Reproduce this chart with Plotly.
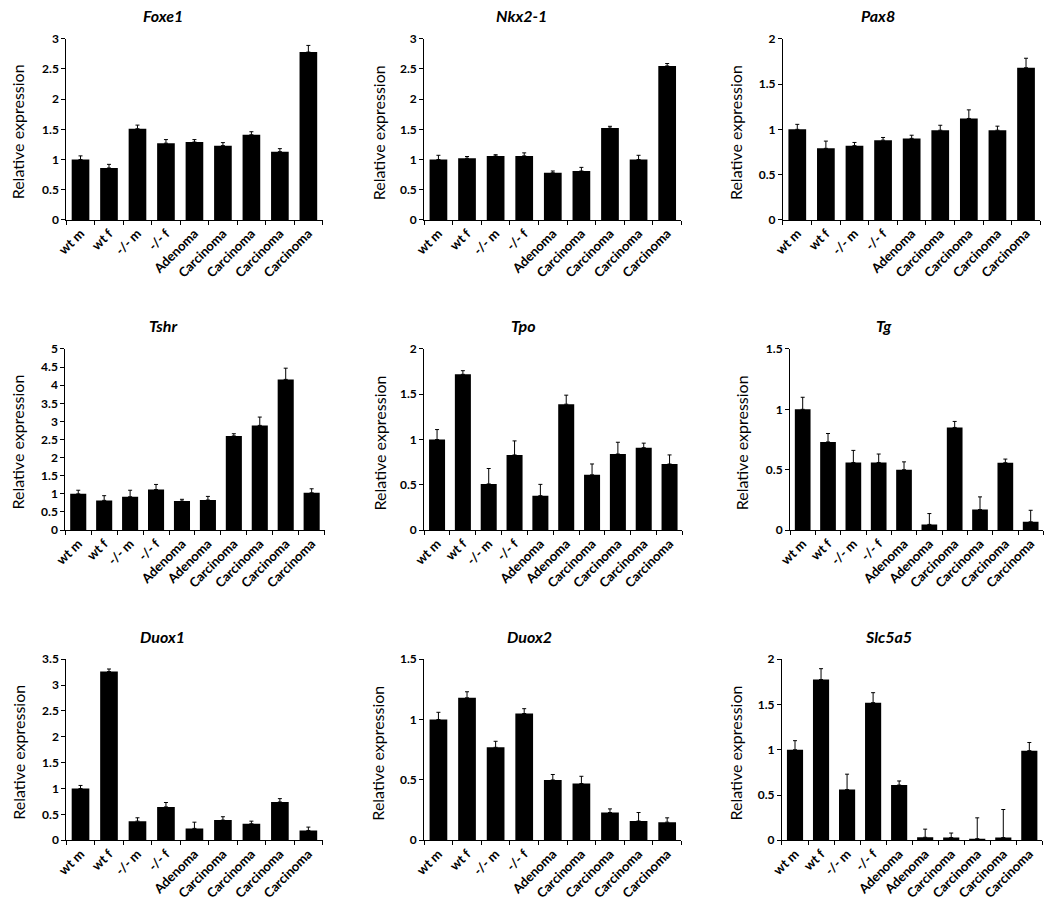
import plotly.graph_objects as go

# ---------------- data ----------------
cats_a = ["wt m", "wt f", "-/- m", "-/- f", "Adenoma", "Carcinoma", "Carcinoma", "Carcinoma", "Carcinoma"]
cats_b = ["wt m", "wt f", "-/- m", "-/- f", "Adenoma", "Adenoma", "Carcinoma", "Carcinoma", "Carcinoma", "Carcinoma"]

foxe1_vals = [1.00, 0.86, 1.51, 1.27, 1.29, 1.23, 1.41, 1.13, 2.78]
foxe1_err = [0.06, 0.06, 0.06, 0.06, 0.04, 0.05, 0.05, 0.05, 0.11]

nkx21_vals = [1.00, 1.02, 1.06, 1.06, 0.78, 0.81, 1.52, 1.00, 2.55]
nkx21_err = [0.07, 0.03, 0.02, 0.05, 0.03, 0.06, 0.03, 0.07, 0.04]

pax8_vals = [1.00, 0.79, 0.82, 0.88, 0.90, 0.99, 1.12, 0.99, 1.68]
pax8_err = [0.055, 0.08, 0.035, 0.03, 0.035, 0.055, 0.095, 0.045, 0.105]

tshr_vals = [1.00, 0.82, 0.92, 1.12, 0.80, 0.83, 2.60, 2.89, 4.16, 1.03]
tshr_err = [0.10, 0.13, 0.18, 0.14, 0.05, 0.10, 0.06, 0.23, 0.31, 0.11]

tpo_vals = [1.00, 1.72, 0.51, 0.83, 0.38, 1.39, 0.61, 0.84, 0.91, 0.73]
tpo_err = [0.11, 0.04, 0.17, 0.155, 0.125, 0.10, 0.12, 0.13, 0.05, 0.10]

tg_vals = [1.00, 0.73, 0.56, 0.56, 0.50, 0.047, 0.85, 0.17, 0.558, 0.069]
tg_err = [0.10, 0.07, 0.10, 0.07, 0.065, 0.09, 0.05, 0.105, 0.03, 0.095]

duox1_vals = [1.00, 3.26, 0.37, 0.645, 0.23, 0.39, 0.32, 0.74, 0.19]
duox1_err = [0.06, 0.05, 0.065, 0.085, 0.12, 0.065, 0.05, 0.065, 0.065]

duox2_vals = [1.00, 1.18, 0.77, 1.05, 0.50, 0.47, 0.23, 0.16, 0.15]
duox2_err = [0.06, 0.05, 0.05, 0.04, 0.045, 0.06, 0.03, 0.07, 0.036]

slc5a5_vals = [1.00, 1.775, 0.56, 1.52, 0.61, 0.033, 0.03, 0.018, 0.03, 0.99]
slc5a5_err = [0.10, 0.12, 0.17, 0.11, 0.045, 0.09, 0.05, 0.23, 0.31, 0.09]

panels = [
    ("Foxe1", cats_a, foxe1_vals, foxe1_err, 3.0),
    ("Nkx2-1", cats_a, nkx21_vals, nkx21_err, 3.0),
    ("Pax8", cats_a, pax8_vals, pax8_err, 2.0),
    ("Tshr", cats_b, tshr_vals, tshr_err, 5.0),
    ("Tpo", cats_b, tpo_vals, tpo_err, 2.0),
    ("Tg", cats_b, tg_vals, tg_err, 1.5),
    ("Duox1", cats_a, duox1_vals, duox1_err, 3.5),
    ("Duox2", cats_a, duox2_vals, duox2_err, 1.5),
    ("Slc5a5", cats_b, slc5a5_vals, slc5a5_err, 2.0),
]

# ---------------- layout geometry (target pixels in the picture) ----------------
W, H = 1050, 917
xpix = [(67, 322), (423, 679), (780, 1036),
        (66, 324), (423, 680), (787, 1039),
        (67, 322), (423, 679), (779, 1038)]
ypix = [(38, 219)] * 3 + [(348, 529)] * 3 + [(658, 839)] * 3
title_px = [(163, 15), (520, 15), (875, 15),
            (163, 325), (522, 325), (880, 325),
            (163, 635), (528, 635), (885, 635)]
ylab_x = [18, 377, 733, 19, 379, 739, 20, 377, 733]

# empirical correction for the capture offset/scale observed in previous renders
AX, SX = 14.0, 0.9825
AY, SY = 7.25, 0.983


def px_x(p):
    return min(max((p - AX) / SX / W, 0.0), 1.0)


def px_y(p):
    return min(max(1 - (p - AY) / SY / H, 0.0), 1.0)


FONT = "Lato, 'Open Sans', Arial, sans-serif"

fig = go.Figure()
layout = dict(
    width=W, height=H, autosize=False,
    margin=dict(l=0, r=0, t=0, b=0),
    paper_bgcolor="white", plot_bgcolor="white",
    showlegend=False,
    font=dict(family=FONT, color="black"),
)
annotations = []

for i, (name, cats, vals, errs, ymax) in enumerate(panels):
    n = len(cats)
    ax = "" if i == 0 else str(i + 1)
    xs = list(range(n))
    fig.add_trace(go.Bar(
        x=xs, y=vals,
        marker=dict(color="black", line=dict(width=0)),
        width=0.62,
        error_y=dict(type="data", symmetric=False, array=errs,
                     arrayminus=[0] * n, color="black", thickness=1, width=2),
        xaxis="x" + ax, yaxis="y" + ax,
    ))
    x0, x1 = xpix[i]
    y0, y1 = ypix[i]
    layout["xaxis" + ax] = dict(
        domain=[px_x(x0), px_x(x1)], anchor="y" + ax,
        range=[-0.5, n - 0.5],
        tickmode="array", tickvals=xs, ticktext=cats,
        tickangle=-45, ticks="",
        tickfont=dict(family=FONT, size=13, color="black", weight="bold"),
        showline=True, linecolor="black", linewidth=1,
        showgrid=False, zeroline=False, fixedrange=True,
        minor=dict(ticks="outside", tick0=-0.5, dtick=1, ticklen=4,
                   tickcolor="black", tickwidth=1, showgrid=False),
    )
    layout["yaxis" + ax] = dict(
        domain=[px_y(y1), px_y(y0)], anchor="x" + ax,
        range=[0, ymax], dtick=0.5, tick0=0,
        ticks="outside", ticklen=4, tickcolor="black", tickwidth=1,
        tickfont=dict(family=FONT, size=12, color="black", weight="bold"),
        showline=True, linecolor="black", linewidth=1,
        showgrid=False, zeroline=False, fixedrange=True,
    )
    tx, ty = title_px[i]
    annotations.append(dict(
        text="<b><i>" + name + "</i></b>", x=px_x(tx), y=px_y(ty),
        xref="paper", yref="paper", showarrow=False,
        xanchor="center", yanchor="middle",
        font=dict(family=FONT, size=16, color="black"),
    ))
    annotations.append(dict(
        text="Relative expression", x=px_x(ylab_x[i]), y=px_y((y0 + y1) / 2 + 3),
        xref="paper", yref="paper", showarrow=False, textangle=-90,
        xanchor="center", yanchor="middle",
        font=dict(family=FONT, size=16, color="black"),
    ))

layout["annotations"] = annotations
fig.update_layout(**layout)
fig.write_html("out.html",
               config={"displayModeBar": False, "responsive": False},
               post_script="document.documentElement.style.margin='0';"
                           "document.body.style.margin='0';"
                           "document.body.style.padding='0';"
                           "document.body.style.overflow='hidden';")
